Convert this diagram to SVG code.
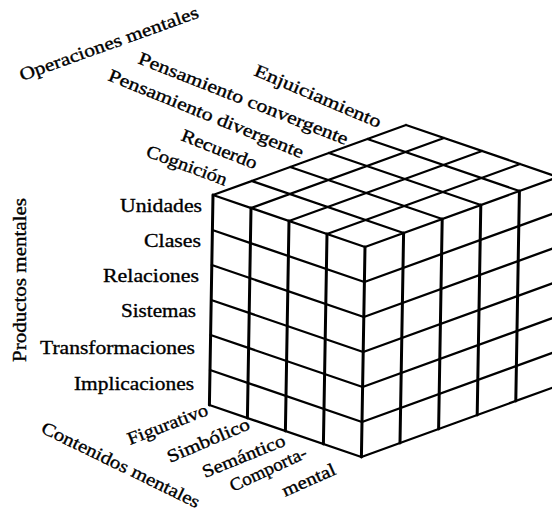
<svg xmlns="http://www.w3.org/2000/svg" width="552" height="516" viewBox="0 0 552 516">
  <style>
    .grid { fill: none; stroke: #000; stroke-width: 2.3; stroke-linecap: round; stroke-linejoin: round; }
    .post { fill: none; stroke: #000; stroke-width: 3; stroke-linecap: round; }
    .lbl { font-family: "Liberation Serif", "Times New Roman", serif; font-size: 18px; fill: #000; stroke: #000; stroke-width: 0.35; }
    .row { font-size: 19px; text-anchor: end; }
  </style>
  <rect width="552" height="516" fill="#fff"/>

  <!-- Cube: 4 contents x 5 operations x 6 products -->
  <g id="cube">
    <g id="face-top">
      <path class="grid" d="M213,195 L406,125 M251,208 L444,138 M289,221 L482,151 M327,234 L520,164 M365,247 L558,177
                            M213,195 L365,247 M251.6,181 L403.6,233 M290.2,167 L442.2,219 M328.8,153 L480.8,205 M367.4,139 L519.4,191 M406,125 L558,177"/>
    </g>
    <g id="face-left">
      <path class="grid" d="M212.4,230 L364.4,282 M211.8,265 L363.8,317 M211.2,300 L363.2,352 M210.6,335 L362.6,387 M210,370 L362,422 M209.4,405 L361.4,457"/>
      <path class="post" d="M213,195 L209.4,405 M251,208 L247.4,418 M289,221 L285.4,431 M327,234 L323.4,444 M365,247 L361.4,457"/>
    </g>
    <g id="face-right">
      <path class="grid" d="M364.4,282 L557.4,212 M363.8,317 L556.8,247 M363.2,352 L556.2,282 M362.6,387 L555.6,317 M362,422 L555,352 M361.4,457 L554.4,387"/>
      <path class="post" d="M403.6,233 L400,443 M442.2,219 L438.6,429 M480.8,205 L477.2,415 M519.4,191 L515.8,401 M558,177 L554.4,387"/>
    </g>
  </g>

  <!-- Operations axis -->
  <g id="operaciones">
    <text class="lbl" x="22" y="81" transform="rotate(-19.7 22 81)" textLength="189" lengthAdjust="spacingAndGlyphs">Operaciones mentales</text>
    <text class="lbl" x="253" y="75" transform="rotate(23 253 75)" textLength="136" lengthAdjust="spacingAndGlyphs">Enjuiciamiento</text>
    <text class="lbl" x="137" y="63" transform="rotate(21.5 137 63)" textLength="224" lengthAdjust="spacingAndGlyphs">Pensamiento convergente</text>
    <text class="lbl" x="107" y="80" transform="rotate(22 107 80)" textLength="209" lengthAdjust="spacingAndGlyphs">Pensamiento divergente</text>
    <text class="lbl" x="180" y="140" transform="rotate(21.5 180 140)" textLength="80" lengthAdjust="spacingAndGlyphs">Recuerdo</text>
    <text class="lbl" x="145" y="156" transform="rotate(20.5 145 156)" textLength="85" lengthAdjust="spacingAndGlyphs">Cognición</text>
  </g>

  <!-- Products axis -->
  <g id="productos">
    <text class="lbl" x="26" y="362" transform="rotate(-90 26 362)" textLength="164" lengthAdjust="spacingAndGlyphs">Productos mentales</text>
    <text class="lbl row" x="202" y="212" textLength="82" lengthAdjust="spacingAndGlyphs">Unidades</text>
    <text class="lbl row" x="201" y="247" textLength="57" lengthAdjust="spacingAndGlyphs">Clases</text>
    <text class="lbl row" x="199" y="282" textLength="96" lengthAdjust="spacingAndGlyphs">Relaciones</text>
    <text class="lbl row" x="196" y="317" textLength="75" lengthAdjust="spacingAndGlyphs">Sistemas</text>
    <text class="lbl row" x="195" y="354" textLength="155" lengthAdjust="spacingAndGlyphs">Transformaciones</text>
    <text class="lbl row" x="194" y="390" textLength="120" lengthAdjust="spacingAndGlyphs">Implicaciones</text>
  </g>

  <!-- Contents axis -->
  <g id="contenidos">
    <text class="lbl" x="130" y="445" transform="rotate(-21 130 445)" textLength="85" lengthAdjust="spacingAndGlyphs">Figurativo</text>
    <text class="lbl" x="170" y="463" transform="rotate(-23 170 463)" textLength="88" lengthAdjust="spacingAndGlyphs">Simbólico</text>
    <text class="lbl" x="205" y="478" transform="rotate(-22 205 478)" textLength="88" lengthAdjust="spacingAndGlyphs">Semántico</text>
    <text class="lbl" x="233" y="492" transform="rotate(-25 233 492)" textLength="83" lengthAdjust="spacingAndGlyphs">Comporta-</text>
    <text class="lbl" x="285" y="497" transform="rotate(-24 285 497)" textLength="57" lengthAdjust="spacingAndGlyphs">mental</text>
    <text class="lbl" x="40" y="432" transform="rotate(26 40 432)" textLength="174" lengthAdjust="spacingAndGlyphs">Contenidos mentales</text>
  </g>
</svg>
